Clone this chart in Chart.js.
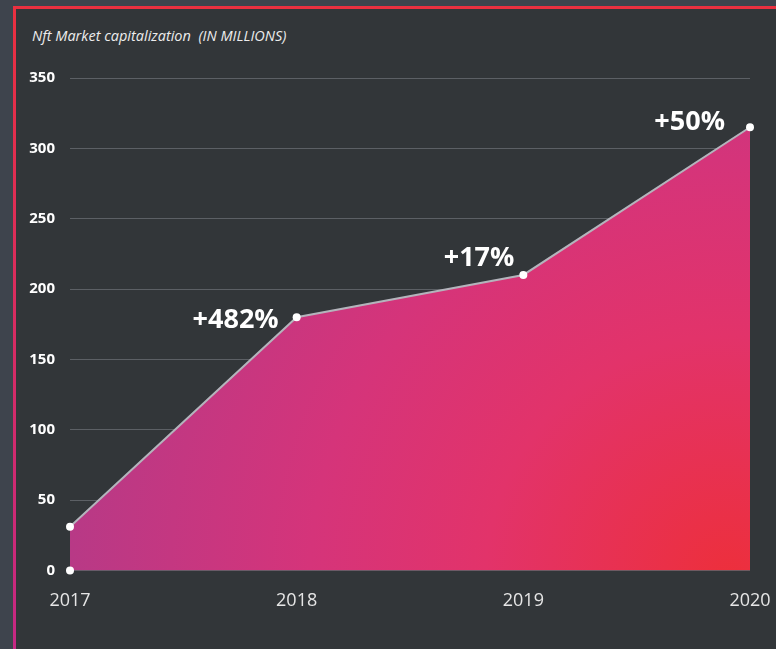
<!DOCTYPE html>
<html>
<head>
<meta charset="utf-8">
<script src="https://cdn.jsdelivr.net/npm/chart.js@4.4.1/dist/chart.umd.min.js"></script>
<style>
  html, body { margin: 0; padding: 0; }
  body { width: 776px; height: 649px; background: #3e444d; position: relative; overflow: hidden; }
  .frame {
    position: absolute; left: 13px; top: 6px; width: 800px; height: 700px;
    background: #323639;
    border: 3px solid transparent;
    border-image: linear-gradient(to bottom, #ea3040, #c2288a) 1;
    box-sizing: border-box;
  }
  .title {
    position: absolute; left: 32px; top: 26px;
    font: italic 14.5px "Open Sans", sans-serif; color: #ececec; white-space: pre;
  }
  #wrap { position: absolute; left: 0; top: 0; width: 776px; height: 649px; }
</style>
</head>
<body>
<div class="frame"></div>
<div class="title">Nft Market capitalization  (IN MILLIONS)</div>
<div id="wrap"><canvas id="chart"></canvas></div>
<script>
const years = ['2017', '2018', '2019', '2020'];
const marketCap = [31, 180, 210, 315];
const baseDot = [0, null, null, null];
const growthLabels = [null, '+482%', '+17%', '+50%'];
const yTicks = [0, 50, 100, 150, 200, 250, 300, 350];

// label placement relative to each point (dx = right edge offset, dy = middle offset)
const labelOffsets = [null, { dx: -18, dy: 3 }, { dx: -9, dy: -17 }, { dx: -25, dy: -5 }];

function areaGradient(ctx) {
  const { chart } = ctx;
  const a = chart.chartArea;
  if (!a) return '#d0347a';
  const g = chart.ctx.createRadialGradient(a.right - 20, a.bottom + 10, 0, a.right - 20, a.bottom + 10, a.right - a.left + 20);
  g.addColorStop(0, '#ed2f3b');
  g.addColorStop(0.35, '#e2336a');
  g.addColorStop(0.6, '#d5347a');
  g.addColorStop(1, '#b33a88');
  return g;
}

const growthPlugin = {
  id: 'growth',
  afterDatasetsDraw(chart) {
    const meta = chart.getDatasetMeta(0);
    const c = chart.ctx;
    c.save();
    c.font = 'bold 27px "Open Sans", sans-serif';
    c.fillStyle = '#ffffff';
    c.textAlign = 'right';
    c.textBaseline = 'middle';
    growthLabels.forEach((txt, i) => {
      if (!txt) return;
      const p = meta.data[i];
      const o = labelOffsets[i];
      c.fillText(txt, p.x + o.dx, p.y + o.dy);
    });
    c.restore();
  }
};

new Chart(document.getElementById('chart'), {
  type: 'line',
  data: {
    labels: years,
    datasets: [
      {
        data: marketCap,
        borderColor: '#b4b4bc',
        borderWidth: 2,
        fill: 'origin',
        backgroundColor: areaGradient,
        tension: 0,
        clip: false,
        pointRadius: 4,
        pointBackgroundColor: '#ffffff',
        pointBorderWidth: 0,
      },
      {
        data: baseDot,
        order: -1,
        clip: false,
        showLine: false,
        pointRadius: 4,
        pointBackgroundColor: '#ffffff',
        pointBorderWidth: 0,
      },
    ],
  },
  options: {
    responsive: true,
    maintainAspectRatio: false,
    animation: false,
    layout: { padding: { top: 78, right: 26, bottom: 17, left: 0 } },
    plugins: { legend: { display: false }, tooltip: { enabled: false } },
    scales: {
      x: {
        offset: false,
        afterFit: scale => { scale.paddingRight = 0; scale.paddingLeft = 0; },
        grid: { display: false, drawTicks: false },
        border: { display: false },
        ticks: { color: '#e6e6e6', font: { family: 'Open Sans', size: 18 }, padding: 20, maxRotation: 0 },
      },
      y: {
        min: 0,
        max: 350,
        afterBuildTicks: scale => { scale.ticks = yTicks.map(v => ({ value: v })); },
        afterFit: scale => { scale.width = 70; },
        grid: { color: '#5c6065', lineWidth: 1, drawTicks: false },
        border: { display: false },
        ticks: { color: '#ffffff', font: { family: 'Open Sans', size: 15, weight: 'bold' }, padding: 15 },
      },
    },
  },
  plugins: [growthPlugin],
});
</script>
</body>
</html>
